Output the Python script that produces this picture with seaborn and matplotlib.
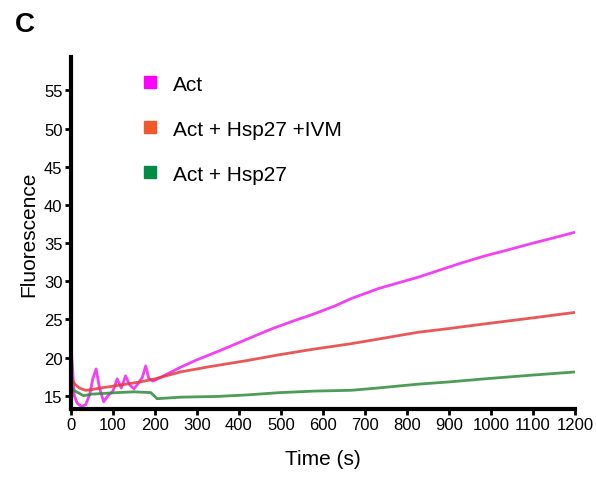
import numpy as np
import pandas as pd
import seaborn as sns
import matplotlib.pyplot as plt
from matplotlib.lines import Line2D

# Values (time in s, fluorescence a.u.)
act_t = [0, 2, 8, 15, 25, 35, 45, 52, 60, 68, 78, 88, 100, 110, 120, 130, 140, 150, 160, 170, 178, 185, 195, 210,
         260, 300, 350, 419, 480, 530, 578, 630, 666, 730, 780, 825, 880, 930, 984, 1040, 1100, 1150, 1198]
act_y = [25.0, 20.0, 15.0, 14.0, 13.6, 13.8, 15.2, 17.2, 18.5, 16.0, 14.2, 15.0, 15.6, 17.2, 16.0, 17.6, 16.4, 15.9,
         16.6, 17.4, 18.9, 17.3, 16.9, 17.3, 18.7, 19.7, 20.8, 22.4, 23.8, 24.8, 25.7, 26.8, 27.7, 29.0, 29.8, 30.5,
         31.5, 32.4, 33.3, 34.1, 35.0, 35.7, 36.4]

ivm_t = [0, 3, 10, 20, 35, 50, 70, 95, 130, 165, 200, 260, 330, 419, 500, 578, 666, 730, 825, 900, 984, 1100, 1198]
ivm_y = [18.5, 17.0, 16.5, 16.0, 15.7, 15.8, 16.0, 16.2, 16.5, 16.8, 17.2, 18.1, 18.8, 19.6, 20.4, 21.1, 21.8, 22.4,
         23.3, 23.8, 24.4, 25.2, 25.9]

hsp_t = [0, 10, 30, 50, 80, 110, 150, 190, 205, 260, 350, 420, 498, 580, 666, 730, 825, 900, 984, 1100, 1198]
hsp_y = [16.0, 15.6, 15.0, 15.2, 15.3, 15.4, 15.5, 15.4, 14.6, 14.8, 14.9, 15.1, 15.4, 15.6, 15.7, 16.0, 16.5, 16.8,
         17.2, 17.7, 18.1]

series = ["Act", "Act + Hsp27 +IVM", "Act + Hsp27"]
line_colors = ["#F020F0", "#E83A3A", "#2E8B3A"]
legend_colors = ["#FF00FF", "#F05A28", "#008C45"]

df = pd.concat([
    pd.DataFrame({"Time": act_t, "Fluorescence": act_y, "Sample": series[0]}),
    pd.DataFrame({"Time": ivm_t, "Fluorescence": ivm_y, "Sample": series[1]}),
    pd.DataFrame({"Time": hsp_t, "Fluorescence": hsp_y, "Sample": series[2]}),
])

sns.set_style("white")
plt.rcParams['font.family'] = ['Liberation Sans', 'DejaVu Sans']
plt.rcParams['text.color'] = 'black'
plt.rcParams['axes.labelcolor'] = 'black'
plt.rcParams['xtick.color'] = 'black'
plt.rcParams['ytick.color'] = 'black'

fig = plt.figure(figsize=(5.96, 4.81), dpi=100)
ax = fig.add_axes([0.119, 0.1476, 0.846, 0.732])

sns.lineplot(data=df, x="Time", y="Fluorescence", hue="Sample", hue_order=series,
             palette=line_colors, linewidth=2.0, alpha=0.85, legend=False, ax=ax)

ax.set_xlim(0, 1200)
ax.set_ylim(13.25, 59.4)
ax.set_xticks(range(0, 1201, 100))
ax.set_yticks(range(15, 56, 5))
ax.tick_params(axis='both', bottom=True, left=True, length=4, width=2, direction='out',
               colors='black', labelsize=12, pad=2)
ax.set_xlabel("Time (s)", fontsize=15, labelpad=12)
ax.set_ylabel("Fluorescence", fontsize=15, labelpad=4)

for s in ["top", "right"]:
    ax.spines[s].set_visible(False)
for s in ["left", "bottom"]:
    ax.spines[s].set_linewidth(3)
    ax.spines[s].set_color("black")

# Legend with square swatches
handles = [Line2D([], [], marker='s', linestyle='none', markersize=9, color=c) for c in legend_colors]
fig.legend(handles, series, loc='upper left', bbox_to_anchor=(0.2, 0.882), frameon=False,
           fontsize=15, labelspacing=1.25, handletextpad=0.5, handlelength=1.2)

fig.text(0.025, 0.975, "C", fontsize=20, fontweight='bold', va='top')

plt.savefig("out.png", dpi=100)
